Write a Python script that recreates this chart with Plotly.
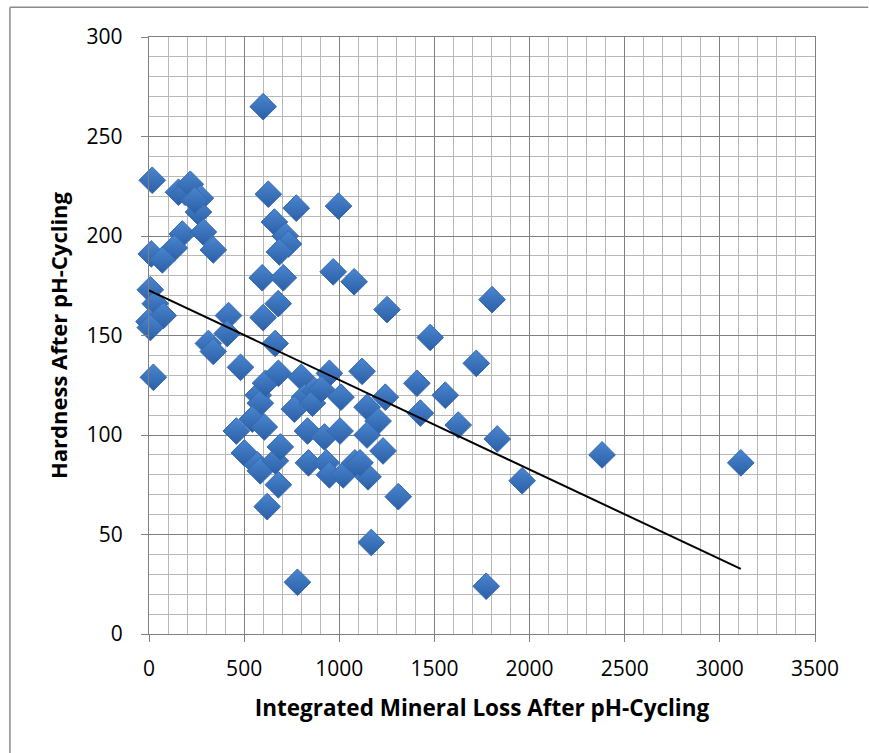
import plotly.graph_objects as go

# Integrated mineral loss (x) vs hardness (y)
mineral_loss = [
    17, 600, 155, 190, 217, 270, 260, 240, 175, 133, 286, 338, 12, 70,
    7, 33, 0, 75, 7, 23, 418, 411, 312, 338, 481, 600, 679, 663,
    627, 774, 659, 716, 733, 685, 595, 706, 996, 968, 1078, 1251, 1803,
    1478, 1720, 1120, 1408, 1557, 1242, 1426, 1625, 1830, 1961, 2381, 3110,
    1772, 1310, 1168, 780, 621, 680,
    574, 585, 543, 459, 606, 501, 569, 585, 664, 690, 612, 680, 800, 817,
    764, 874, 859, 833, 922, 838, 948, 906, 932, 948, 1021, 1004, 1009,
    1082, 1146, 1204, 1146, 1230, 1151, 1109,
]
hardness = [
    228, 265, 222, 222, 226, 219, 212, 218, 201, 194, 202, 193, 191, 188,
    173, 166, 157, 160, 154, 129, 160, 151, 146, 142, 134, 159, 166, 146,
    221, 214, 207, 200, 196, 192, 179, 179, 215, 182, 177, 163, 168,
    149, 136, 132, 126, 120, 119, 111, 105, 98, 77, 90, 86,
    24, 69, 46, 26, 64, 75,
    120, 116, 108, 102, 104, 91, 85, 82, 87, 94, 126, 131, 129, 119,
    113, 122, 116, 102, 99, 86, 131, 123, 86, 80, 80, 102, 119,
    86, 114, 107, 100, 92, 79, 86,
]

# Linear trendline endpoints
trend_x = [0, 3110]
trend_y = [172.7, 32.7]

x_title = "Integrated Mineral Loss After pH-Cycling"
y_title = "Hardness After pH-Cycling"

FONT = "Open Sans"

fig = go.Figure()
fig.add_trace(go.Scatter(
    x=mineral_loss, y=hardness, mode="markers",
    marker=dict(symbol="diamond", size=20.5, color="#4a86d0",
                gradient=dict(type="vertical", color="#2b5fa6"),
                line=dict(color="#3669b0", width=1)),
    showlegend=False, cliponaxis=False,
))
fig.add_trace(go.Scatter(
    x=trend_x, y=trend_y, mode="lines",
    line=dict(color="black", width=2), showlegend=False,
))

border = dict(color="#8c8c8c", width=1.5)

fig.update_layout(
    width=869, height=753,
    margin=dict(l=149, r=54, t=37, b=119),
    paper_bgcolor="white", plot_bgcolor="white",
    font=dict(family=FONT, size=20, color="black"),
    xaxis=dict(
        range=[0, 3500], dtick=500, tick0=0,
        showgrid=True, gridcolor="#808080", gridwidth=1.3,
        minor=dict(dtick=100, showgrid=True, gridcolor="#b8b8b8", gridwidth=1.4,
                   ticks=""),
        showline=True, linecolor="#808080", linewidth=1.3, mirror=True,
        ticks="outside", ticklen=7, tickcolor="#808080",
        ticklabelstandoff=9,
        zeroline=False,
        title=dict(text="<b>" + x_title + "</b>", font=dict(size=22.5), standoff=18),
        tickfont=dict(size=21),
    ),
    yaxis=dict(
        range=[0, 300], dtick=50, tick0=0,
        showgrid=True, gridcolor="#808080", gridwidth=1.3,
        minor=dict(dtick=10, showgrid=True, gridcolor="#b8b8b8", gridwidth=1.4,
                   ticks=""),
        showline=True, linecolor="#808080", linewidth=1.3, mirror=True,
        ticks="outside", ticklen=7, tickcolor="#808080",
        ticklabelstandoff=14,
        zeroline=False,
        title=dict(text="<b>" + y_title + "</b>", font=dict(size=22), standoff=12),
        tickfont=dict(size=21),
    ),
    shapes=[
        dict(type="line", xref="paper", yref="paper",
             x0=-0.2088, x1=-0.2088, y0=-0.3, y1=1.0499, line=border, layer="below"),
        dict(type="line", xref="paper", yref="paper",
             x0=-0.2088, x1=1.08, y0=1.0499, y1=1.0499, line=border, layer="below"),
    ],
)

fig.write_html("out.html")
